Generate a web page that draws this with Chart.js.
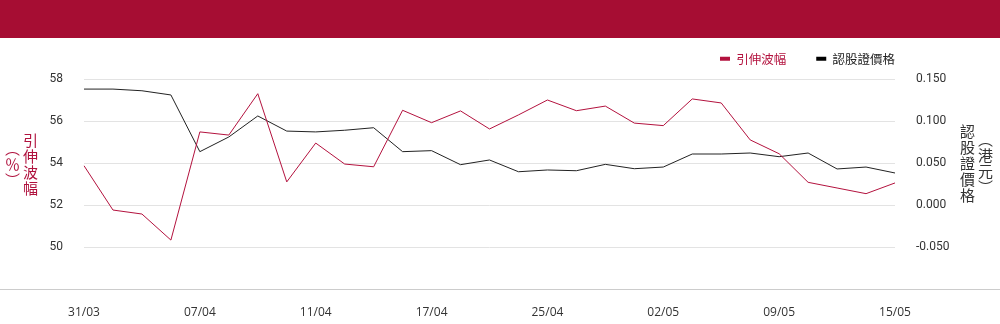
<!DOCTYPE html>
<html>
<head>
<meta charset="utf-8">
<script src="https://cdn.jsdelivr.net/npm/chart.js@4.4.0/dist/chart.umd.min.js"></script>
<style>
  html, body { margin: 0; padding: 0; background: #fff; }
  #wrap { position: relative; width: 1000px; height: 324px; overflow: hidden; }
  #header { position: absolute; left: 0; top: 0; width: 1000px; height: 38px; background: #a60d33; }
  .ytitle {
    position: absolute;
    font-family: "Noto Sans CJK TC", sans-serif;
    font-size: 15px;
    line-height: 18px;
    letter-spacing: 1px;
    text-align: center;
  }
  #ltitle { writing-mode: vertical-rl; left: 3px; top: 133px; height: 64px; width: 36px; color: #b0123e; }
  #rtitle { writing-mode: vertical-lr; left: 958px; top: 124px; height: 80px; width: 36px; color: #333; }
</style>
</head>
<body>
<div id="wrap">
  <canvas id="line-chart" width="1000" height="324"></canvas>
  <div id="header"></div>
  <div id="ltitle" class="ytitle">引伸波幅<br>（％）</div>
  <div id="rtitle" class="ytitle">認股證價格<br>（港元）</div>
</div>
<script>
const dates = ['31/03', '01/04', '02/04', '03/04', '07/04', '08/04', '09/04', '10/04',
  '11/04', '14/04', '15/04', '16/04', '17/04', '22/04', '23/04', '24/04',
  '25/04', '28/04', '29/04', '30/04', '02/05', '06/05', '07/05', '08/05',
  '09/05', '12/05', '13/05', '14/05', '15/05'];

// implied volatility (%)
const volatility = [53.87, 51.76, 51.57, 50.33, 55.48, 55.33, 57.30, 53.10,
  54.95, 53.95, 53.82, 56.51, 55.92, 56.48, 55.62, 56.29,
  57.00, 56.49, 56.71, 55.90, 55.78, 57.05, 56.86, 55.10,
  54.44, 53.08, 52.81, 52.54, 53.05];

// warrant price (HKD)
const warrantPrice = [0.138, 0.138, 0.136, 0.131, 0.0635, 0.081, 0.106, 0.088,
  0.087, 0.089, 0.092, 0.0635, 0.0647, 0.048, 0.0536, 0.0396,
  0.0417, 0.0408, 0.0484, 0.0432, 0.0452, 0.0607, 0.0607, 0.0619,
  0.0575, 0.0619, 0.0429, 0.0452, 0.0381];

const RED = '#b3123e';
const DARK = '#222222';

const layoutTweaks = {
  id: 'layoutTweaks',
  beforeInit(chart) {
    // leave a small gap under the legend
    if (chart.legend) {
      const fit = chart.legend.fit;
      chart.legend.fit = function () { fit.call(this); this.height += 4; };
    }
  },
  afterLayout(chart) {
    // legend ends flush with the plot area's right edge
    if (chart.legend) chart.legend.right = chart.chartArea.right + 30;
  },
  afterDraw(chart) {
    const { ctx, chartArea } = chart;
    ctx.save();
    ctx.strokeStyle = '#cccccc';
    ctx.lineWidth = 1;
    ctx.beginPath();
    ctx.moveTo(0, Math.round(chartArea.bottom) + 0.5);
    ctx.lineTo(chart.width, Math.round(chartArea.bottom) + 0.5);
    ctx.stroke();
    ctx.restore();
  }
};

const ctx = document.getElementById('line-chart').getContext('2d');
new Chart(ctx, {
  type: 'line',
  data: {
    labels: dates,
    datasets: [
      {
        label: '引伸波幅',
        data: volatility,
        borderColor: RED,
        backgroundColor: RED,
        borderWidth: 1,
        pointRadius: 0,
        tension: 0,
        yAxisID: 'y'
      },
      {
        label: '認股證價格',
        data: warrantPrice,
        borderColor: DARK,
        backgroundColor: '#000',
        borderWidth: 1,
        pointRadius: 0,
        tension: 0,
        yAxisID: 'y1'
      }
    ]
  },
  options: {
    responsive: false,
    animation: false,
    layout: { padding: { top: 22.5, right: 45, left: 0, bottom: 0 } },
    plugins: {
      tooltip: { enabled: false },
      legend: {
        position: 'top',
        align: 'end',
        labels: {
          boxWidth: 10,
          boxHeight: 4,
          padding: 30,
          font: { family: '"Noto Sans CJK TC", sans-serif', size: 12.5 },
          generateLabels(chart) {
            return chart.data.datasets.map((ds, i) => ({
              text: ds.label,
              fillStyle: ds.backgroundColor,
              strokeStyle: ds.backgroundColor,
              lineWidth: 0,
              fontColor: i === 0 ? RED : '#222',
              datasetIndex: i,
              hidden: false
            }));
          }
        }
      }
    },
    scales: {
      x: {
        offset: false,
        grid: { display: false },
        border: { display: false },
        afterFit(scale) { scale.height = 35; },
        ticks: {
          autoSkip: false,
          maxRotation: 0,
          padding: 8,
          color: '#333',
          font: { family: '"Open Sans", sans-serif', size: 12 },
          callback(value, index) { return index % 4 === 0 ? dates[index] : ''; }
        }
      },
      y: {
        position: 'left',
        min: 48,
        max: 58,
        border: { display: false },
        grid: { color: '#e3e3e3', drawTicks: false },
        afterFit(scale) { scale.width = 84; },
        ticks: {
          stepSize: 2,
          padding: 21,
          color: '#333',
          font: { family: 'Roboto, sans-serif', size: 12 },
          callback(value) { return value <= 48 ? '' : value; }
        }
      },
      y1: {
        position: 'right',
        min: -0.1,
        max: 0.15,
        border: { display: false },
        grid: { display: false, drawTicks: false },
        afterFit(scale) { scale.width = 60; },
        ticks: {
          stepSize: 0.05,
          padding: 21,
          color: '#333',
          font: { family: 'Roboto, sans-serif', size: 12 },
          callback(value) { return value < -0.09 ? '' : value.toFixed(3); }
        }
      }
    }
  },
  plugins: [layoutTweaks]
});
</script>
</body>
</html>
